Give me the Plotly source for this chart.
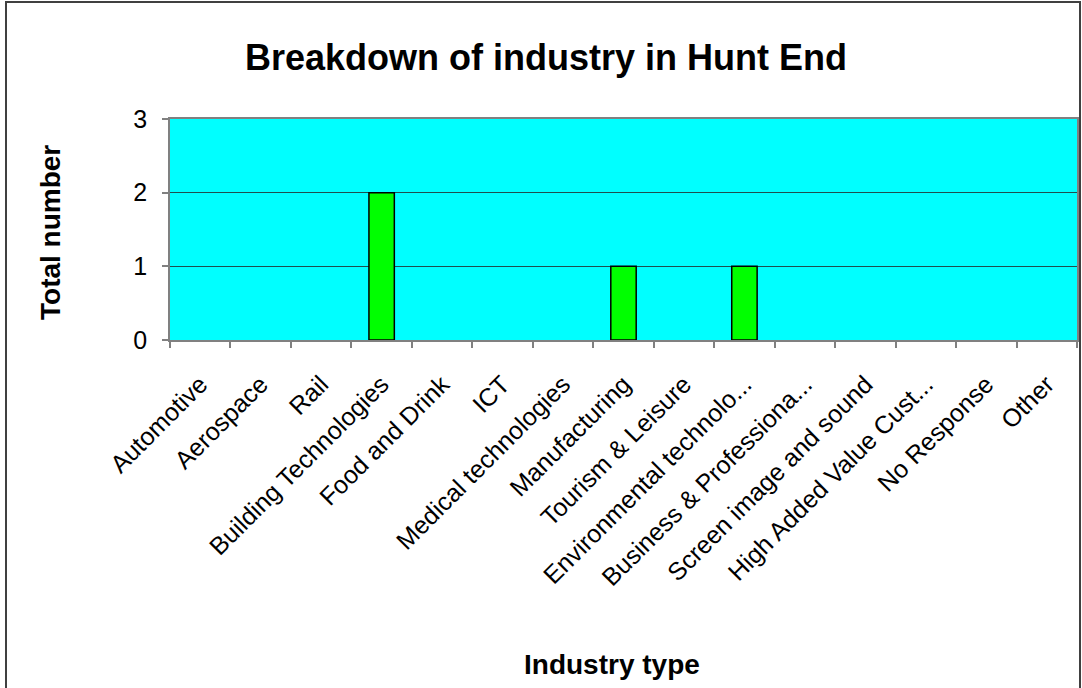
import plotly.graph_objects as go

categories = ["Automotive", "Aerospace", "Rail", "Building Technologies", "Food and Drink",
              "ICT", "Medical technologies", "Manufacturing", "Tourism & Leisure",
              "Environmental technolo...", "Business & Professiona...", "Screen image and sound",
              "High Added Value Cust...", "No Response", "Other"]
values = [0, 0, 0, 2, 0, 0, 0, 1, 0, 1, 0, 0, 0, 0, 0]
y_ticks = [0, 1, 2, 3]

FONT = "Liberation Sans, Arial, sans-serif"
L, R, T, B = 170, 1077, 119, 340
W, H = 1082, 688
pw, ph = R - L, B - T

def px_x(x):
    return (x - L) / pw

def px_y(y):
    return (B - y) / ph

# zero-height bars have no visible outline in the reference
outline_widths = [1.5 if v > 0 else 0 for v in values]

fig = go.Figure()
fig.add_trace(go.Bar(
    x=categories, y=values,
    marker=dict(color="#00FF00", line=dict(color="#000000", width=outline_widths)),
    width=0.42,
    hoverinfo="x+y",
))

fig.update_layout(
    width=W, height=H,
    margin=dict(l=L, r=W - R, t=T, b=H - B, pad=0),
    paper_bgcolor="white",
    plot_bgcolor="#00FFFF",
    showlegend=False,
    font=dict(family=FONT, color="black"),
    xaxis=dict(
        type="category",
        tickson="boundaries",
        ticks="outside", ticklen=6, tickcolor="#808080", tickwidth=1.5,
        tickangle=-45,
        ticklabelstandoff=18,
        tickfont=dict(size=25, family=FONT, color="black"),
        showline=True, linecolor="#808080", linewidth=1.5, mirror=True,
        showgrid=False, automargin=False,
    ),
    yaxis=dict(
        range=[0, 3],
        tickvals=y_ticks,
        ticks="outside", ticklen=6, tickcolor="#808080", tickwidth=1.5,
        ticklabelstandoff=10,
        tickfont=dict(size=25, family=FONT, color="black"),
        showline=True, linecolor="#808080", linewidth=1.5, mirror=True,
        showgrid=True, gridcolor="#1f4f4f", gridwidth=1,
        zeroline=False, automargin=False,
    ),
    annotations=[
        dict(text="<b>Breakdown of industry in Hunt End</b>", xref="paper", yref="paper",
             x=px_x(546), y=px_y(57), showarrow=False, xanchor="center", yanchor="middle",
             font=dict(size=36, family=FONT, color="black")),
        dict(text="<b>Industry type</b>", xref="paper", yref="paper",
             x=px_x(612), y=px_y(664), showarrow=False, xanchor="center", yanchor="middle",
             font=dict(size=28, family=FONT, color="black")),
        dict(text="<b>Total number</b>", xref="paper", yref="paper",
             x=px_x(50), y=px_y(232), showarrow=False, xanchor="center", yanchor="middle",
             textangle=-90, font=dict(size=28, family=FONT, color="black")),
    ],
    shapes=[
        dict(type="rect", xref="paper", yref="paper",
             x0=px_x(6), x1=px_x(1080), y0=px_y(2), y1=px_y(690),
             line=dict(color="#404040", width=2), fillcolor="rgba(0,0,0,0)", layer="below"),
    ],
)

fig.write_html("out.html", config={"displayModeBar": False},
               post_script="document.body.style.margin='0';")
